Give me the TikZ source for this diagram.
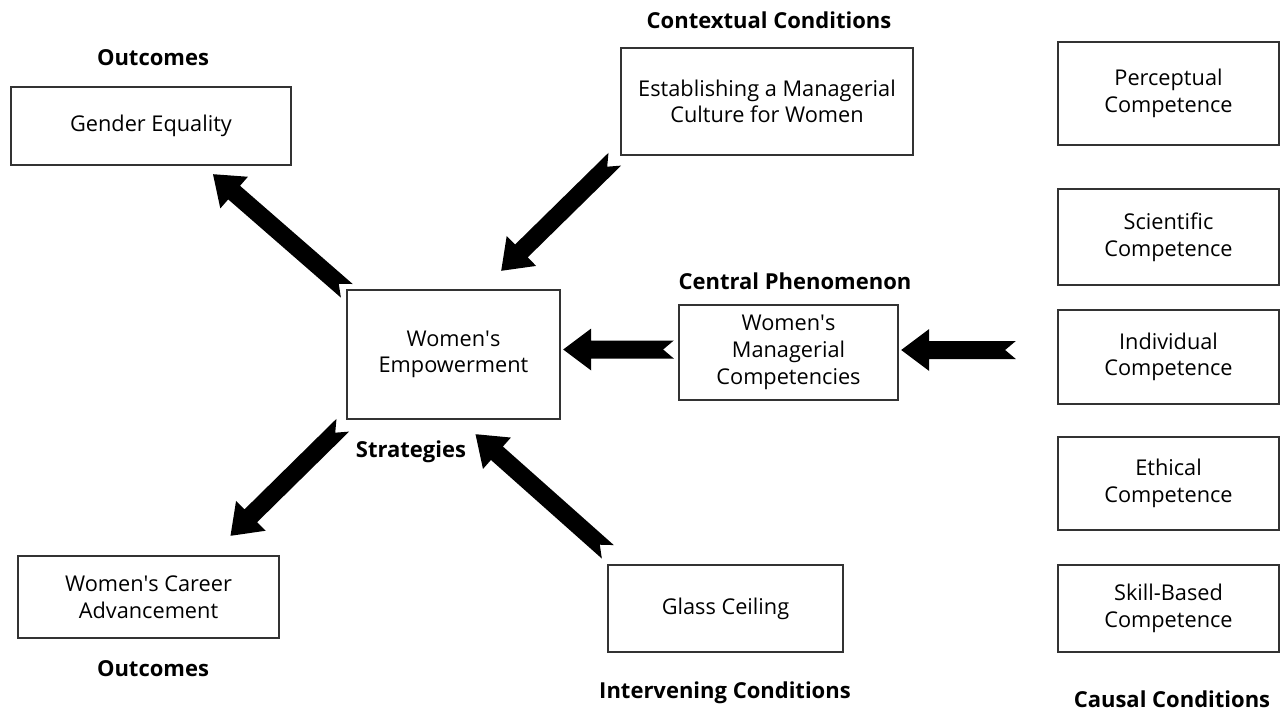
\documentclass[tikz,border=0pt]{standalone}
\usepackage{fontspec}
\setmainfont{Open Sans}
\usetikzlibrary{calc}

\newcommand\px{0.75pt}
\newcommand\apos{\textquotesingle}
\tikzset{
  box/.style={draw=black!80, line width=1.8pt, rectangle, align=center,
    inner sep=0pt, font=\fontsize{16.3}{20}\selectfont},
  heading/.style={inner sep=1pt, font=\bfseries\fontsize{16.5}{18}\selectfont},
}
% notched block arrow from #1 (tail) to #2 (tip)
\newcommand\blockarrow[2]{%
  \fill let \p1=($(#2)-(#1)$), \n1={atan2(\y1,\x1)}, \n2={veclen(\x1,\y1)} in
  ($(#1)+(\n1+90:6.75pt)$) -- ($(#1)+(\n1:8pt)$) -- ($(#1)+(\n1-90:6.75pt)$)
  -- ($(#1)+(\n1:\n2-21pt)+(\n1-90:6.75pt)$)
  -- ($(#1)+(\n1:\n2-21pt)+(\n1-90:15.75pt)$)
  -- (#2)
  -- ($(#1)+(\n1:\n2-21pt)+(\n1+90:15.75pt)$)
  -- ($(#1)+(\n1:\n2-21pt)+(\n1+90:6.75pt)$) -- cycle;}

\begin{document}
\begin{tikzpicture}[x=\px, y=-\px]
  \useasboundingbox (0,0) rectangle (1288,710);

  % boxes
  \node[box, minimum width=280*\px, minimum height=78*\px] (gender) at (151,126) {Gender Equality};
  \node[box, minimum width=292*\px, minimum height=107*\px] (estab) at (767,101.5)
    {Establishing a Managerial\\Culture for Women};
  \node[box, minimum width=213*\px, minimum height=129*\px] (empow) at (453.5,354.5)
    {Women\apos s\\Empowerment};
  \node[box, minimum width=219*\px, minimum height=95*\px] (manag) at (788.5,352.5)
    {Women\apos s\\Managerial\\Competencies};
  \node[box, minimum width=261*\px, minimum height=82*\px] (career) at (148.5,597)
    {Women\apos s Career\\Advancement};
  \node[box, minimum width=235*\px, minimum height=87*\px] (glass) at (725.5,608.5) {Glass Ceiling};

  \node[box, minimum width=221*\px, minimum height=103*\px] (percep) at (1168.5,93.5)
    {Perceptual\\Competence};
  \node[box, minimum width=221*\px, minimum height=96*\px] (scient) at (1168.5,237)
    {Scientific\\Competence};
  \node[box, minimum width=221*\px, minimum height=94*\px] (indiv) at (1168.5,357)
    {Individual\\Competence};
  \node[box, minimum width=221*\px, minimum height=93*\px] (ethic) at (1168.5,483.5)
    {Ethical\\Competence};
  \node[box, minimum width=221*\px, minimum height=87*\px] (skill) at (1168.5,608.5)
    {Skill-Based\\Competence};

  % headings
  \node[heading] (out top) at (153,58) {Outcomes};
  \node[heading] (context) at (769,20) {Contextual Conditions};
  \node[heading] (central) at (795,281) {Central Phenomenon};
  \node[heading] (strat) at (411,452) {Strategies};
  \node[heading] (out bot) at (153,669) {Outcomes};
  \node[heading] (interv) at (725,693) {Intervening Conditions};
  \node[heading] (causal) at (1172,699) {Causal Conditions};

  % arrow ends
  \coordinate (g tail) at ($(empow.north west)+(1,2)$);
  \coordinate (g tip) at ($(gender.south)+(62,8)$);
  \coordinate (c tail) at ($(estab.south west)+(-5,3)$);
  \coordinate (c tip) at ($(empow.north east)+(-60,-18)$);
  \coordinate (m tail) at ($(manag.west)+(-4,-3)$);
  \coordinate (m tip) at ($(empow.east)+(2,-5)$);
  \coordinate (i tail) at ($(indiv.west)+(-41,-7)$);
  \coordinate (i tip) at ($(manag.east)+(2,-2.5)$);
  \coordinate (s tail) at ($(empow.south west)+(-3,5)$);
  \coordinate (s tip) at ($(career.north)+(82,-19)$);
  \coordinate (v tail) at ($(glass.north west)+(1,-12)$);
  \coordinate (v tip) at ($(empow.south)+(22,14)$);

  \blockarrow{g tail}{g tip}
  \blockarrow{c tail}{c tip}
  \blockarrow{m tail}{m tip}
  \blockarrow{i tail}{i tip}
  \blockarrow{s tail}{s tip}
  \blockarrow{v tail}{v tip}
\end{tikzpicture}
\end{document}
